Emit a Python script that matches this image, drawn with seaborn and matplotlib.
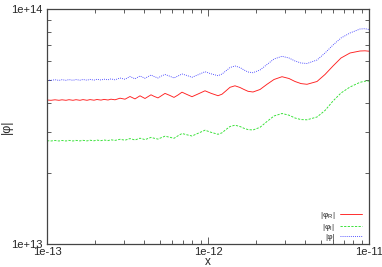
import matplotlib
matplotlib.use("Agg")
import matplotlib.pyplot as plt
import matplotlib.ticker as mticker
import numpy as np
import seaborn as sns

# x positions
x_vals = [1.000e-13, 1.059e-13, 1.121e-13, 1.187e-13, 1.239e-13, 1.312e-13, 1.370e-13,
          1.450e-13, 1.514e-13, 1.603e-13, 1.673e-13, 1.772e-13, 1.850e-13, 1.958e-13,
          2.044e-13, 2.165e-13, 2.260e-13, 2.393e-13, 2.497e-13, 2.645e-13, 2.841e-13,
          3.051e-13, 3.277e-13, 3.520e-13, 3.781e-13, 4.062e-13, 4.425e-13, 4.619e-13,
          4.891e-13, 5.106e-13, 5.407e-13, 5.807e-13, 6.149e-13, 6.511e-13, 6.895e-13,
          7.406e-13, 7.955e-13, 8.668e-13, 9.580e-13, 1.044e-12, 1.154e-12, 1.222e-12,
          1.294e-12, 1.370e-12, 1.471e-12, 1.580e-12, 1.674e-12, 1.772e-12, 1.903e-12,
          2.104e-12, 2.325e-12, 2.570e-12, 2.882e-12, 3.185e-12, 3.471e-12, 3.782e-12,
          4.120e-12, 4.754e-12, 5.330e-12, 5.976e-12, 6.701e-12, 7.621e-12, 8.793e-12,
          9.445e-12, 1.000e-11]

# |phi_R| in units of 1e13
phi_r = [4.100, 4.088, 4.108, 4.088, 4.108, 4.088, 4.112, 4.088, 4.112, 4.088, 4.116,
         4.088, 4.116, 4.092, 4.120, 4.096, 4.124, 4.100, 4.132, 4.108, 4.173, 4.132,
         4.243, 4.144, 4.272, 4.161, 4.314, 4.251, 4.185, 4.264, 4.374, 4.285, 4.206,
         4.306, 4.426, 4.327, 4.235, 4.348, 4.487, 4.378, 4.276, 4.340, 4.487, 4.643,
         4.712, 4.634, 4.544, 4.465, 4.434, 4.544, 4.782, 5.012, 5.151, 5.061, 4.915,
         4.815, 4.782, 4.915, 5.264, 5.721, 6.187, 6.498, 6.626, 6.639, 6.613]

# |phi_I| in units of 1e13
phi_i = [2.752, 2.744, 2.757, 2.744, 2.757, 2.744, 2.760, 2.744, 2.760, 2.746, 2.762,
         2.746, 2.765, 2.749, 2.768, 2.752, 2.771, 2.754, 2.776, 2.760, 2.790, 2.765,
         2.809, 2.771, 2.820, 2.781, 2.842, 2.820, 2.795, 2.831, 2.876, 2.845, 2.817,
         2.887, 2.953, 2.915, 2.881, 2.958, 3.050, 2.988, 2.930, 2.973, 3.071, 3.162,
         3.203, 3.162, 3.107, 3.068, 3.056, 3.137, 3.321, 3.505, 3.592, 3.533, 3.437,
         3.384, 3.377, 3.471, 3.699, 4.060, 4.391, 4.657, 4.876, 4.929, 4.939]

# |phi| in units of 1e13
phi_abs = [4.987, 4.968, 5.002, 4.968, 5.002, 4.973, 5.007, 4.973, 5.007, 4.978, 5.012,
           4.978, 5.017, 4.982, 5.022, 4.987, 5.027, 4.997, 5.041, 4.997, 5.086, 5.022,
           5.161, 5.046, 5.187, 5.071, 5.238, 5.161, 5.086, 5.177, 5.264, 5.172, 5.086,
           5.187, 5.289, 5.212, 5.121, 5.248, 5.410, 5.300, 5.202, 5.289, 5.458, 5.637,
           5.721, 5.637, 5.501, 5.394, 5.357, 5.501, 5.805, 6.127, 6.291, 6.187, 6.008,
           5.891, 5.863, 6.067, 6.498, 7.027, 7.527, 7.905, 8.220, 8.245, 8.180]

x_ticks = [1e-13, 1e-12, 1e-11]
x_ticklabels = ["1e-13", "1e-12", "1e-11"]
y_ticks = [1e13, 1e14]
y_ticklabels = ["1e+13", "1e+14"]

sns.set_style("ticks")
plt.rcParams['font.family'] = ['Liberation Sans', 'DejaVu Sans']
plt.rcParams['mathtext.fontset'] = 'custom'
plt.rcParams['mathtext.rm'] = 'Liberation Sans'
plt.rcParams['mathtext.it'] = 'Liberation Sans'

x = np.array(x_vals)
fig = plt.figure(figsize=(3.82, 2.67), dpi=100)
ax = fig.add_axes([47 / 382, 23 / 267, 322 / 382, 235 / 267])

sns.lineplot(x=x, y=np.array(phi_r) * 1e13, ax=ax, color="#ff2020", lw=0.65,
             label="|φ$_\\mathrm{R}$|")
sns.lineplot(x=x, y=np.array(phi_i) * 1e13, ax=ax, color="#30e030", lw=0.65,
             dashes=(2.5, 1.5), label="|φ$_\\mathrm{I}$|")
sns.lineplot(x=x, y=np.array(phi_abs) * 1e13, ax=ax, color="#4040ff", lw=0.65,
             dashes=(1, 1.3), label="|φ|")

ax.set_xscale("log")
ax.set_yscale("log")
ax.set_xlim(1e-13, 1e-11)
ax.set_ylim(1e13, 1e14)
ax.xaxis.set_major_locator(mticker.FixedLocator(x_ticks))
ax.xaxis.set_major_formatter(mticker.FixedFormatter(x_ticklabels))
ax.yaxis.set_major_locator(mticker.FixedLocator(y_ticks))
ax.yaxis.set_major_formatter(mticker.FixedFormatter(y_ticklabels))
ax.xaxis.set_minor_locator(mticker.LogLocator(base=10, subs=np.arange(2, 10)))
ax.yaxis.set_minor_locator(mticker.LogLocator(base=10, subs=np.arange(2, 10)))
ax.xaxis.set_minor_formatter(mticker.NullFormatter())
ax.yaxis.set_minor_formatter(mticker.NullFormatter())

ax.tick_params(which="both", direction="in", top=True, right=True,
               color="#444444", width=0.6, labelsize=8, pad=3)
ax.tick_params(axis="x", which="both", pad=2)
ax.tick_params(which="major", length=5)
ax.tick_params(which="minor", length=3)
for sp in ax.spines.values():
    sp.set_color("#444444")
    sp.set_linewidth(0.9)

ax.set_xlabel("x", fontsize=8.5)
ax.set_ylabel("|φ|", fontsize=9)
ax.xaxis.label.set_va("baseline")
ax.xaxis.set_label_coords(0.5, -0.090)
ax.yaxis.set_label_coords(-0.105, 0.5)

leg = ax.legend(loc="lower right", bbox_to_anchor=(0.978, 0.013), frameon=False,
                fontsize=6, markerfirst=False, handlelength=2.6, handletextpad=0.6,
                labelspacing=0.05, borderpad=0, borderaxespad=0)

fig.savefig("out.png", dpi=100)
